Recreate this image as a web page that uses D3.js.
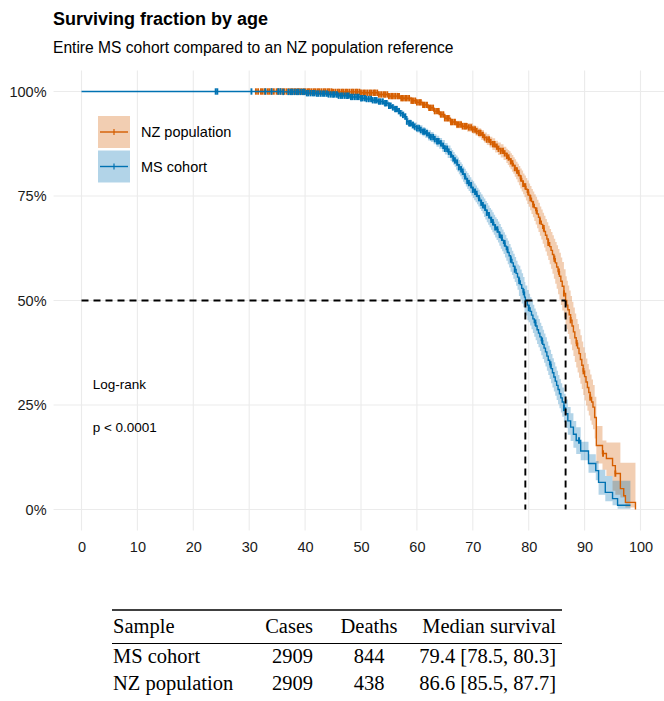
<!DOCTYPE html>
<html>
<head>
<meta charset="utf-8">
<script src="https://cdn.jsdelivr.net/npm/d3@7"></script>
<style>
  body { margin: 0; background: #fff; }
  svg { display: block; font-family: "Liberation Sans", Arial, Helvetica, sans-serif; }
</style>
</head>
<body>
<svg id="chart" width="664" height="701"></svg>
<script>
// ---- Kaplan–Meier estimates: age, survival, lower and upper 95% limits ----
const msAge = [0, 24, 30, 36, 40, 42, 44, 46, 48, 50, 51, 52, 53, 54, 55, 55.5, 56, 56.5, 57, 57.5, 57.8, 58.2, 58.6, 59, 59.5, 60, 60.5, 61, 61.5, 62, 62.5, 63, 63.5, 64, 64.5, 65, 65.5, 66,
  66.25, 66.5, 66.75, 67, 67.25, 67.5, 67.75, 68, 68.25, 68.5, 68.75, 69, 69.25, 69.5, 69.75, 70, 70.25, 70.5, 70.75, 71, 71.25, 71.5, 71.75, 72, 72.25, 72.5, 72.75, 73, 73.25, 73.5, 73.75, 74, 74.25, 74.5, 74.75, 75, 75.25, 75.5, 75.75, 76, 76.25, 76.5, 76.75, 77, 77.25, 77.5, 77.75, 78, 78.25, 78.5, 78.75, 79, 79.25, 79.4, 79.75, 80, 80.25, 80.5, 80.75, 81, 81.25, 81.5, 81.75, 82, 82.25, 82.5, 82.75, 83, 83.25, 83.5, 83.75, 84, 84.25, 84.5, 84.75, 85, 85.25, 85.5, 85.75, 86, 86.3, 86.6, 87, 87.5, 88, 88.5, 89.3, 90.7, 92.0, 92.5, 93.7, 95.0, 95.9, 98.2];
const msSurv = [1, 1, 1, 0.999, 0.996, 0.995, 0.993, 0.990, 0.987, 0.984, 0.982, 0.979, 0.976, 0.972, 0.966, 0.962, 0.958, 0.953, 0.948, 0.944, 0.940, 0.928, 0.924, 0.920, 0.916, 0.912, 0.908, 0.904, 0.900, 0.895, 0.891, 0.886, 0.881, 0.876, 0.870, 0.863, 0.856, 0.849,
  0.845, 0.840, 0.835, 0.830, 0.825, 0.819, 0.814, 0.808, 0.802, 0.797, 0.791, 0.786, 0.781, 0.776, 0.770, 0.765, 0.760, 0.755, 0.750, 0.745, 0.739, 0.734, 0.728, 0.722, 0.716, 0.710, 0.704, 0.698, 0.693, 0.687, 0.681, 0.675, 0.670, 0.664, 0.657, 0.650, 0.644, 0.637, 0.630, 0.622, 0.615, 0.607, 0.598, 0.590, 0.582, 0.574, 0.565, 0.556, 0.547, 0.538, 0.529, 0.520, 0.508, 0.500, 0.489, 0.482, 0.474, 0.465, 0.456, 0.447, 0.439, 0.430, 0.422, 0.413, 0.404, 0.395, 0.386, 0.377, 0.367, 0.357, 0.347, 0.337, 0.327, 0.317, 0.307, 0.297, 0.287, 0.277, 0.267, 0.257, 0.243, 0.229, 0.212, 0.197, 0.180, 0.165, 0.140, 0.110, 0.093, 0.065, 0.041, 0.026, 0.010, 0.010];
const msLower = [1, 1, 1, 0.998, 0.994, 0.992, 0.990, 0.986, 0.983, 0.979, 0.977, 0.974, 0.970, 0.966, 0.959, 0.955, 0.951, 0.945, 0.940, 0.936, 0.932, 0.919, 0.915, 0.911, 0.906, 0.902, 0.897, 0.893, 0.889, 0.883, 0.879, 0.874, 0.868, 0.863, 0.856, 0.849, 0.841, 0.834,
  0.830, 0.825, 0.820, 0.813, 0.808, 0.802, 0.797, 0.790, 0.784, 0.779, 0.773, 0.767, 0.762, 0.757, 0.751, 0.745, 0.740, 0.735, 0.730, 0.725, 0.719, 0.714, 0.708, 0.700, 0.694, 0.687, 0.681, 0.675, 0.669, 0.663, 0.657, 0.651, 0.645, 0.639, 0.631, 0.624, 0.618, 0.611, 0.603, 0.595, 0.587, 0.579, 0.569, 0.561, 0.552, 0.544, 0.535, 0.526, 0.511, 0.502, 0.493, 0.484, 0.472, 0.464, 0.453, 0.448, 0.440, 0.431, 0.422, 0.413, 0.405, 0.396, 0.388, 0.379, 0.369, 0.360, 0.351, 0.342, 0.332, 0.322, 0.312, 0.302, 0.292, 0.282, 0.272, 0.262, 0.252, 0.242, 0.232, 0.222, 0.209, 0.195, 0.179, 0.164, 0.148, 0.133, 0.118, 0.088, 0.070, 0.035, 0.020, 0.010, 0.002, 0.002];
const msUpper = [1, 1, 1, 1, 0.998, 0.998, 0.996, 0.994, 0.991, 0.989, 0.987, 0.984, 0.982, 0.978, 0.973, 0.969, 0.965, 0.961, 0.956, 0.952, 0.948, 0.937, 0.933, 0.929, 0.926, 0.922, 0.919, 0.915, 0.911, 0.907, 0.903, 0.898, 0.894, 0.889, 0.884, 0.877, 0.871, 0.864,
  0.860, 0.855, 0.850, 0.847, 0.842, 0.836, 0.831, 0.826, 0.820, 0.815, 0.809, 0.805, 0.800, 0.795, 0.789, 0.785, 0.780, 0.775, 0.770, 0.765, 0.759, 0.754, 0.748, 0.744, 0.738, 0.733, 0.727, 0.721, 0.717, 0.711, 0.705, 0.699, 0.695, 0.689, 0.683, 0.676, 0.670, 0.663, 0.657, 0.649, 0.643, 0.635, 0.627, 0.619, 0.612, 0.604, 0.595, 0.586, 0.583, 0.574, 0.565, 0.556, 0.544, 0.536, 0.525, 0.516, 0.508, 0.499, 0.490, 0.481, 0.473, 0.464, 0.456, 0.447, 0.439, 0.430, 0.421, 0.412, 0.402, 0.392, 0.382, 0.372, 0.362, 0.352, 0.342, 0.332, 0.322, 0.312, 0.302, 0.292, 0.277, 0.263, 0.245, 0.230, 0.212, 0.197, 0.162, 0.132, 0.116, 0.095, 0.080, 0.069, 0.069, 0.069];

const nzAge = [31, 40, 45, 50, 53, 55, 57, 59, 60, 61, 62, 63, 64, 65, 66, 67, 68, 69, 70, 70.5, 71, 71.5, 72, 72.5, 73, 73.5, 74, 74.5, 75, 75.5, 76,
  76.25, 76.5, 76.75, 77, 77.25, 77.5, 77.75, 78, 78.25, 78.5, 78.75, 79, 79.25, 79.5, 79.75, 80, 80.25, 80.5, 80.75, 81, 81.25, 81.5, 81.75, 82, 82.25, 82.5, 82.75, 83, 83.25, 83.5, 83.75, 84, 84.25, 84.5, 84.75, 85, 85.25, 85.5, 85.75, 86, 86.3, 86.6, 86.8, 87, 87.25, 87.5, 87.75, 88, 88.25, 88.5, 88.75, 89, 89.25, 89.5, 89.75, 90, 90.25, 90.5, 90.75, 91, 91.25, 91.5, 91.8, 92.1, 93.2, 93.9, 95.0, 95.5, 96.4, 97.0, 97.3, 99.1];
const nzSurv = [1, 1, 0.999, 0.997, 0.993, 0.989, 0.984, 0.978, 0.974, 0.968, 0.961, 0.953, 0.945, 0.936, 0.927, 0.921, 0.917, 0.914, 0.909, 0.905, 0.901, 0.896, 0.890, 0.885, 0.879, 0.874, 0.868, 0.863, 0.858, 0.852, 0.846,
  0.842, 0.838, 0.833, 0.828, 0.823, 0.817, 0.811, 0.805, 0.799, 0.792, 0.786, 0.779, 0.773, 0.766, 0.759, 0.752, 0.745, 0.737, 0.730, 0.722, 0.715, 0.707, 0.699, 0.690, 0.682, 0.673, 0.665, 0.656, 0.647, 0.638, 0.629, 0.620, 0.610, 0.600, 0.590, 0.580, 0.569, 0.558, 0.546, 0.534, 0.517, 0.500, 0.489, 0.478, 0.466, 0.453, 0.439, 0.425, 0.411, 0.398, 0.386, 0.373, 0.359, 0.345, 0.331, 0.318, 0.305, 0.292, 0.280, 0.268, 0.257, 0.245, 0.220, 0.153, 0.134, 0.122, 0.105, 0.086, 0.050, 0.033, 0.017, 0];
const nzLower = [1, 0.999, 0.998, 0.995, 0.990, 0.985, 0.980, 0.973, 0.969, 0.962, 0.955, 0.946, 0.938, 0.928, 0.919, 0.912, 0.908, 0.904, 0.899, 0.894, 0.890, 0.884, 0.878, 0.872, 0.866, 0.860, 0.854, 0.848, 0.842, 0.836, 0.829,
  0.824, 0.819, 0.814, 0.808, 0.803, 0.796, 0.790, 0.783, 0.776, 0.768, 0.761, 0.754, 0.747, 0.739, 0.731, 0.724, 0.716, 0.707, 0.699, 0.690, 0.682, 0.673, 0.664, 0.655, 0.646, 0.636, 0.627, 0.617, 0.607, 0.597, 0.587, 0.576, 0.564, 0.552, 0.540, 0.528, 0.515, 0.502, 0.489, 0.476, 0.459, 0.442, 0.431, 0.420, 0.408, 0.395, 0.381, 0.367, 0.353, 0.340, 0.328, 0.315, 0.301, 0.288, 0.274, 0.261, 0.249, 0.236, 0.225, 0.213, 0.203, 0.192, 0.170, 0.110, 0.095, 0.080, 0.045, 0.035, 0.029, 0.029, 0.005, 0];
const nzUpper = [1, 1, 1, 0.999, 0.996, 0.993, 0.988, 0.983, 0.979, 0.974, 0.967, 0.960, 0.952, 0.944, 0.935, 0.930, 0.926, 0.924, 0.919, 0.916, 0.912, 0.908, 0.902, 0.898, 0.892, 0.888, 0.882, 0.878, 0.874, 0.868, 0.863,
  0.860, 0.857, 0.852, 0.848, 0.843, 0.838, 0.832, 0.827, 0.822, 0.816, 0.811, 0.804, 0.799, 0.793, 0.787, 0.780, 0.774, 0.767, 0.761, 0.754, 0.748, 0.741, 0.734, 0.725, 0.718, 0.710, 0.703, 0.695, 0.687, 0.679, 0.671, 0.664, 0.656, 0.648, 0.640, 0.632, 0.623, 0.614, 0.603, 0.592, 0.575, 0.558, 0.547, 0.536, 0.524, 0.511, 0.497, 0.483, 0.469, 0.456, 0.444, 0.431, 0.417, 0.402, 0.388, 0.375, 0.361, 0.348, 0.335, 0.323, 0.311, 0.298, 0.270, 0.200, 0.165, 0.160, 0.160, 0.160, 0.112, 0.112, 0.112, 0];

// Censoring times (ages at last follow-up)
const msCensor = [24.0, 24.3, 30.4, 32.9, 34.0, 35.2, 35.6, 36.1, 37.0, 37.4, 37.7, 38.1, 38.5, 38.8, 39.2, 39.6, 39.9, 40.3, 40.6, 41.0, 41.4, 41.7, 42.1, 42.4, 42.8, 43.2, 43.5, 43.9, 44.2, 44.6, 45.0, 45.3, 45.7, 46.0, 46.4, 46.7, 47.1, 47.5, 47.8, 48.2, 48.5, 48.9, 49.3, 49.6, 50.0, 50.3, 50.7, 51.0, 51.4, 51.8, 52.1, 52.5, 52.8, 53.2, 53.5, 53.9, 54.3, 54.6, 55.0, 55.3, 55.7, 56.1, 56.4, 56.8, 57.1, 57.5, 57.9, 58.2, 58.6, 58.9, 59.3, 59.6, 60.0, 60.4, 60.7, 61.1, 61.4, 61.8, 62.2, 62.5, 62.9, 63.2, 63.6, 63.9, 64.3, 64.7, 65.0, 65.4, 65.7, 66.1, 66.5, 66.8, 67.2, 67.5, 67.9, 68.2, 68.6, 69.0, 69.3, 69.7, 70.0, 70.4, 70.7, 71.1, 71.5, 71.8, 72.2, 72.5, 72.9, 73.3, 73.6, 74.0, 74.4, 74.8, 75.2, 75.7, 76.2, 76.8, 77.5, 78.3, 79.1, 80.0, 81.2, 82.4, 83.9, 86.3, 89.0];
const nzCensor = [31.2, 31.6, 32.1, 32.4, 32.8, 33.3, 33.6, 34.0, 34.4, 34.9, 35.2, 35.6, 36.0, 36.3, 36.7, 37.1, 37.5, 37.8, 38.2, 38.6, 38.9, 39.3, 39.7, 40.0, 40.4, 40.7, 41.1, 41.5, 41.8, 42.2, 42.5, 42.9, 43.3, 43.6, 44.0, 44.3, 44.7, 45.0, 45.4, 45.8, 46.1, 46.5, 46.8, 47.2, 47.5, 47.9, 48.3, 48.6, 49.0, 49.3, 49.7, 50.0, 50.4, 50.7, 51.1, 51.5, 51.8, 52.2, 52.5, 52.9, 53.2, 53.6, 54.0, 54.3, 54.7, 55.0, 55.4, 55.7, 56.1, 56.5, 56.8, 57.2, 57.5, 57.9, 58.2, 58.6, 59.0, 59.3, 59.7, 60.0, 60.4, 60.7, 61.1, 61.4, 61.8, 62.2, 62.5, 62.9, 63.2, 63.6, 63.9, 64.3, 64.7, 65.0, 65.4, 65.7, 66.1, 66.4, 66.8, 67.2, 67.5, 67.9, 68.2, 68.6, 68.9, 69.3, 69.7, 70.0, 70.4, 70.7, 71.1, 71.4, 71.8, 72.1, 72.5, 72.9, 73.2, 73.6, 73.9, 74.3, 74.6, 75.0, 75.4, 75.7, 76.1, 76.4, 76.8, 77.1, 77.5, 77.9, 78.2, 78.6, 79.0, 79.4, 79.9, 80.3, 80.8, 81.4, 82.0, 82.7, 83.5, 84.6, 85.4, 86.3, 87.5, 88.6, 89.8, 91.0, 93.3, 95.5];

// Axis ticks
const xTicks = [0, 10, 20, 30, 40, 50, 60, 70, 80, 90, 100];
const yTicks = [0, 0.25, 0.5, 0.75, 1];

// Summary table
const tableHeader = ["Sample", "Cases", "Deaths", "Median survival"];
const tableSample = ["MS cohort", "NZ population"];
const tableCases = [2909, 2909];
const tableDeaths = [844, 438];
const tableMedian = [79.4, 86.6];
const tableLow = [78.5, 85.5];
const tableHigh = [80.3, 87.7];

// Colours
const msColor = "#0072B2";
const nzColor = "#D55E00";

// ---- Layout ----
const svg = d3.select("#chart");
const x = d3.scaleLinear().domain([0, 100]).range([81.5, 640.5]);
const y = d3.scaleLinear().domain([0, 1]).range([509.5, 91.5]);
const panel = { left: x(-5), right: x(105), top: y(1.05), bottom: y(-0.05) };

// Title and subtitle
svg.append("text").attr("x", 53).attr("y", 25)
  .attr("font-size", 18).attr("font-weight", "bold").attr("fill", "#000")
  .text("Surviving fraction by age");
svg.append("text").attr("x", 53).attr("y", 53)
  .attr("font-size", 15.6).attr("fill", "#000")
  .text("Entire MS cohort compared to an NZ population reference");

// Gridlines
const grid = svg.append("g").attr("stroke", "#ebebeb").attr("stroke-width", 1.1);
grid.selectAll("line.h").data(yTicks).join("line").attr("class", "h")
  .attr("x1", panel.left).attr("x2", panel.right)
  .attr("y1", d => y(d)).attr("y2", d => y(d));
grid.selectAll("line.v").data(xTicks).join("line").attr("class", "v")
  .attr("y1", panel.top).attr("y2", panel.bottom)
  .attr("x1", d => x(d)).attr("x2", d => x(d));

// Axes (labels only)
const xAxis = svg.append("g").attr("transform", `translate(0,${panel.bottom})`)
  .call(d3.axisBottom(x).tickValues(xTicks).tickSize(0).tickPadding(11.5).tickFormat(d3.format("d")));
const yAxis = svg.append("g").attr("transform", `translate(${panel.left},0)`)
  .call(d3.axisLeft(y).tickValues(yTicks).tickSize(0).tickPadding(7).tickFormat(d3.format(".0%")));
[xAxis, yAxis].forEach(g => {
  g.select(".domain").remove();
  g.selectAll("text").attr("font-size", 14.5).attr("fill", "#1a1a1a")
    .attr("font-family", "'Liberation Sans', Arial, sans-serif");
});

// ---- Survival curves ----
function rows(age, surv, lo, hi) {
  return age.map((a, i) => ({ a, s: surv[i], lo: lo[i], hi: hi[i] }));
}
const series = [
  { key: "nz", data: rows(nzAge, nzSurv, nzLower, nzUpper), color: nzColor, censor: nzCensor },
  { key: "ms", data: rows(msAge, msSurv, msLower, msUpper), color: msColor, censor: msCensor }
];

const band = d3.area().curve(d3.curveStepAfter)
  .x(d => x(d.a)).y0(d => y(d.lo)).y1(d => y(d.hi));
const line = d3.line().curve(d3.curveStepAfter)
  .x(d => x(d.a)).y(d => y(d.s));

const plot = svg.append("g");
series.forEach(sr => {
  plot.append("path").attr("d", band(sr.data))
    .attr("fill", sr.color).attr("fill-opacity", 0.3).attr("stroke", "none");
});
series.forEach(sr => {
  plot.append("path").attr("d", line(sr.data))
    .attr("fill", "none").attr("stroke", sr.color).attr("stroke-width", 1.4);
  const ages = sr.data.map(d => d.a);
  const survAt = a => sr.data[Math.max(0, d3.bisectRight(ages, a) - 1)].s;
  plot.append("g").selectAll("line").data(sr.censor).join("line")
    .attr("x1", d => x(d)).attr("x2", d => x(d))
    .attr("y1", d => y(survAt(d)) - 3.2).attr("y2", d => y(survAt(d)) + 3.2)
    .attr("stroke", sr.color).attr("stroke-width", 1.9);
});

// Median survival guides
const dash = svg.append("g").attr("stroke", "#000").attr("stroke-width", 1.9)
  .attr("stroke-dasharray", "7,5").attr("fill", "none");
dash.append("line").attr("x1", x(0)).attr("x2", x(d3.max(tableMedian)))
  .attr("y1", y(0.5)).attr("y2", y(0.5));
dash.selectAll("line.v").data(tableMedian).join("line").attr("class", "v")
  .attr("x1", d => x(d)).attr("x2", d => x(d))
  .attr("y1", y(0.5)).attr("y2", y(0));

// Log-rank annotation
svg.append("text").attr("x", x(2)).attr("y", 389).attr("font-size", 13.5).attr("fill", "#000").text("Log-rank");
svg.append("text").attr("x", x(2)).attr("y", 432).attr("font-size", 13.5).attr("fill", "#000").text("p < 0.0001");

// Legend
const legendItems = [
  { label: "NZ population", color: nzColor },
  { label: "MS cohort", color: msColor }
];
const legend = svg.append("g").attr("transform", "translate(98,116)");
legendItems.forEach((it, i) => {
  const g = legend.append("g").attr("transform", `translate(0,${i * 34.5})`);
  g.append("rect").attr("width", 32).attr("height", 32)
    .attr("fill", it.color).attr("fill-opacity", 0.3);
  g.append("line").attr("x1", 2).attr("x2", 30).attr("y1", 16).attr("y2", 16)
    .attr("stroke", it.color).attr("stroke-width", 1.4);
  g.append("line").attr("x1", 16).attr("x2", 16).attr("y1", 13).attr("y2", 19)
    .attr("stroke", it.color).attr("stroke-width", 1.2);
  g.append("text").attr("x", 43).attr("y", 16).attr("dy", "0.35em")
    .attr("font-size", 14.5).attr("fill", "#000").text(it.label);
});

// ---- Summary table ----
const tbl = svg.append("g").attr("font-family", "'Liberation Serif', 'Times New Roman', serif")
  .attr("font-size", 20.5).attr("fill", "#000");
const colX = { sample: 113, cases: 313, deaths: 369, median: 556 };
svg.append("line").attr("x1", 112).attr("x2", 562).attr("y1", 610).attr("y2", 610)
  .attr("stroke", "#000").attr("stroke-width", 1.6);
svg.append("line").attr("x1", 112).attr("x2", 562).attr("y1", 643.5).attr("y2", 643.5)
  .attr("stroke", "#000").attr("stroke-width", 1);
tbl.append("text").attr("x", colX.sample).attr("y", 633).text(tableHeader[0]);
tbl.append("text").attr("x", colX.cases).attr("y", 633).attr("text-anchor", "end").text(tableHeader[1]);
tbl.append("text").attr("x", colX.deaths).attr("y", 633).attr("text-anchor", "middle").text(tableHeader[2]);
tbl.append("text").attr("x", colX.median).attr("y", 633).attr("text-anchor", "end").text(tableHeader[3]);
const f1 = d3.format(".1f");
tableSample.forEach((s, i) => {
  const yy = 663 + i * 26.5;
  tbl.append("text").attr("x", colX.sample).attr("y", yy).text(s);
  tbl.append("text").attr("x", colX.cases).attr("y", yy).attr("text-anchor", "end").text(tableCases[i]);
  tbl.append("text").attr("x", colX.deaths).attr("y", yy).attr("text-anchor", "middle").text(tableDeaths[i]);
  tbl.append("text").attr("x", colX.median).attr("y", yy).attr("text-anchor", "end")
    .text(`${f1(tableMedian[i])} [${f1(tableLow[i])}, ${f1(tableHigh[i])}]`);
});
</script>
</body>
</html>
